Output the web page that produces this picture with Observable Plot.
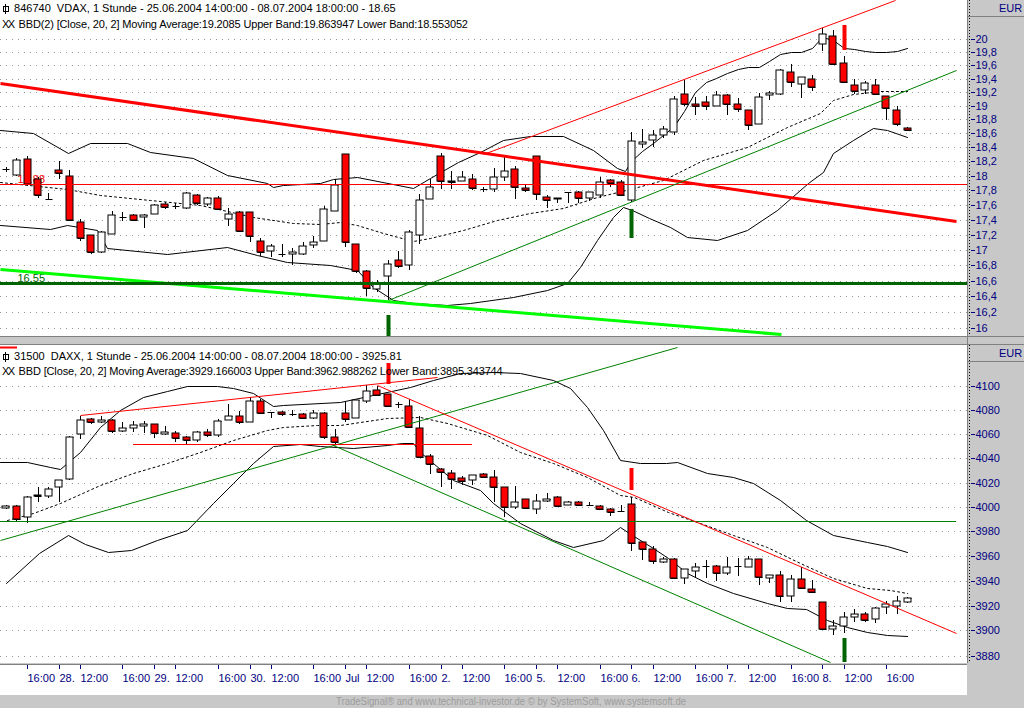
<!DOCTYPE html>
<html><head><meta charset="utf-8"><title>VDAX / DAXX 1 Stunde</title>
<script src="https://cdn.jsdelivr.net/npm/d3@7"></script>
<script src="https://cdn.jsdelivr.net/npm/@observablehq/plot@0.6"></script>
<style>
html,body{margin:0;padding:0;background:#c8c8c8;overflow:hidden;}
#root{position:relative;width:1024px;height:708px;background:#c8c8c8;font-family:"Liberation Sans",Arial,sans-serif;overflow:hidden;}
.box{position:absolute;}
.hdr{position:absolute;font-size:11px;line-height:13px;color:#000;white-space:pre;}
.hdr.tight{letter-spacing:-0.15px;}
.xx{letter-spacing:-1.5px;margin-right:2px;}
.eur{position:absolute;font-size:11px;line-height:13px;color:#000080;}
.ico{display:inline-block;position:relative;width:4px;height:4px;border:1px solid #000;margin:0 2px 0 1px;}
.ico::before{content:"";position:absolute;left:1px;top:-3px;width:1px;height:10px;background:#000;}
.svgbox{position:absolute;left:0;}
</style></head>
<body><div id="root"></div>
<script>
// ---------- x axis (bar index, one bar per hour) ----------
const xTickIdx    = [2,5,7,11,14,16,20,23,25,29,32,34,38,41,43,47,50,52,56,59,61,65,68,70,74,77,79,83];
const xTickLabels = ["16:00","28.","12:00","16:00","29.","12:00","16:00","30.","12:00","16:00","Jul","12:00","16:00","2.","12:00","16:00","5.","12:00","16:00","6.","12:00","16:00","7.","12:00","16:00","8.","12:00","16:00"];

// ---------- VDAX candles ----------
const vdaxOpen = [18.10,18.01,18.24,17.95,17.68,18.08,18.00,17.37,17.19,16.97,
 17.21,17.44,17.46,17.44,17.48,17.61,17.58,17.56,17.74,17.61,
 17.70,17.41,17.50,17.50,17.12,16.98,16.95,16.94,16.94,17.06,
 17.12,17.51,18.30,17.07,16.73,16.49,16.66,16.86,16.80,17.19,
 17.68,18.28,17.93,17.93,17.95,17.81,17.81,17.98,18.10,17.83,
 18.28,17.71,17.68,17.78,17.77,17.69,17.74,17.94,17.92,17.67,
 18.44,18.50,18.58,18.62,19.17,19.02,19.05,19.00,19.16,19.02,
 18.93,18.73,19.16,19.17,19.50,19.32,19.39,19.92,20.05,19.63,
 19.31,19.23,19.31,19.15,18.93,18.68];
const vdaxHigh = [18.12,18.25,18.28,17.98,17.76,18.20,18.08,17.41,17.20,17.25,
 17.51,17.50,17.47,17.48,17.61,17.64,17.63,17.78,17.75,17.71,
 17.72,17.56,17.52,17.50,17.16,17.07,17.07,17.02,17.10,17.18,
 17.58,17.96,18.31,17.08,16.74,16.61,16.87,16.98,17.26,17.75,
 17.96,18.32,18.07,18.06,18.02,17.84,18.11,18.26,18.14,17.88,
 18.28,17.74,17.70,17.78,17.79,17.78,17.98,17.96,17.94,18.62,
 18.66,18.65,18.70,19.15,19.38,19.13,19.15,19.22,19.18,19.12,
 18.93,19.19,19.21,19.54,19.62,19.43,19.45,20.17,20.15,19.74,
 19.39,19.36,19.39,19.15,19.00,18.69];
const vdaxLow = [18.05,18.00,17.86,17.69,17.68,17.95,17.39,17.12,16.95,16.96,
 17.21,17.38,17.38,17.29,17.47,17.54,17.55,17.55,17.60,17.58,
 17.53,17.31,17.25,17.10,16.92,16.91,16.91,16.80,16.93,17.02,
 17.11,17.51,17.03,16.70,16.40,16.45,16.35,16.76,16.74,17.07,
 17.68,17.82,17.81,17.93,17.80,17.77,17.77,17.93,17.68,17.77,
 17.67,17.56,17.62,17.63,17.62,17.65,17.70,17.84,17.72,17.64,
 18.39,18.40,18.53,18.58,19.00,18.87,18.93,18.99,18.87,18.91,
 18.65,18.73,19.08,19.16,19.28,19.11,19.21,19.82,19.62,19.33,
 19.17,19.17,19.16,18.79,18.70,18.64];
const vdaxClose = [18.10,18.22,17.88,17.73,17.68,18.04,17.39,17.15,16.97,17.23,
 17.46,17.44,17.40,17.46,17.60,17.57,17.58,17.76,17.62,17.69,
 17.55,17.48,17.25,17.18,16.97,17.05,16.95,16.97,17.05,17.10,
 17.54,17.87,17.10,16.72,16.51,16.57,16.82,16.79,17.24,17.67,
 17.85,17.93,17.91,17.98,17.83,17.81,17.98,18.06,17.84,17.80,
 17.75,17.67,17.70,17.78,17.70,17.77,17.92,17.90,17.74,18.49,
 18.47,18.58,18.66,19.10,19.03,18.99,19.00,19.16,19.02,18.95,
 18.72,19.13,19.19,19.53,19.35,19.42,19.27,20.08,19.62,19.35,
 19.21,19.34,19.17,18.96,18.74,18.65];
// VDAX Bollinger (20,2): [bar, value]
const vdaxUpper = [[-0.55,18.65],[2.56,18.60],[5.87,18.32],[7.94,18.46],[11.43,18.46],[13.6,18.33],[17.65,18.25],[20.86,18.01],[24.63,17.90],[25.2,17.84],[26.14,17.87],[29.6,17.90],[30.85,17.96],[33.1,17.98],[38.4,17.83],[40.0,17.97],[42.6,18.19],[44.7,18.33],[46.9,18.50],[49.4,18.56],[52.5,18.56],[55.4,18.36],[57.6,18.11],[58.4,18.06],[59,18.20],[60,18.35],[61,18.46],[62,18.58],[63,18.70],[64,18.92],[65,19.20],[66,19.35],[67,19.41],[68,19.48],[69,19.54],[70,19.57],[71,19.58],[72,19.66],[73,19.77],[74,19.80],[75,19.81],[76,19.86],[77,20.04],[78,19.99],[79,19.86],[80,19.85],[81,19.82],[82,19.80],[83,19.80],[84,19.82],[85,19.86]];
const vdaxLower = [[-0.55,17.33],[4.17,17.27],[5.77,17.33],[8.6,17.26],[9.54,17.02],[15.2,16.94],[20.86,17.04],[23.69,16.93],[26.5,16.84],[30.57,16.80],[33.1,16.74],[34.6,16.52],[36.5,16.35],[38.4,16.32],[41.6,16.29],[43.8,16.32],[47.8,16.39],[51.0,16.48],[52.9,16.57],[54.1,16.78],[55.75,17.13],[57.3,17.44],[58.2,17.57],[59.05,17.53],[60.7,17.42],[62.6,17.30],[64.2,17.17],[67.1,17.13],[69.9,17.26],[72.7,17.53],[75.6,17.90],[77.1,18.05],[78.0,18.32],[79.9,18.50],[81.8,18.68],[83.1,18.65],[85,18.55]];
const vdaxMA = [[-0.55,17.91],[5.77,17.82],[8.88,17.73],[13.6,17.66],[18.3,17.60],[20.9,17.51],[23.3,17.44],[27.1,17.36],[29.6,17.34],[31.5,17.37],[33.1,17.33],[35.6,17.22],[38.4,17.11],[40.0,17.16],[43.1,17.26],[46.3,17.39],[49.4,17.49],[52.5,17.56],[55.75,17.71],[58.9,17.82],[62.0,17.94],[65.7,18.22],[69.9,18.40],[73.7,18.69],[76.8,18.89],[78.0,19.08],[79.9,19.18],[82.4,19.21],[85,19.21]];
// VDAX drawn trend lines: [[bar, value],[bar, value]]
const vdaxRedThick  = [[-0.55,19.33],[89.6,17.38]];
const vdaxRedLevel  = [[-0.55,17.88],[90.64,17.88]];
const vdaxRedRise   = [[45.0,18.31],[83.85,20.62]];
const vdaxGreenRise = [[36.04,16.35],[89.6,19.53]];
const vdaxLimeFall  = [[-0.55,16.75],[73.07,15.93]];
const vdaxGreenLevel= [[-0.55,16.565],[90.64,16.565]];
const vdaxLevelLabels = ["17.88", "16.55"];
// signal bars: [bar, from, to]
const vdaxSignalGreen = [[36,16.17,15.90],[59,17.54,17.15]];
const vdaxSignalRed   = [[79,20.22,19.84]];
const vdaxTicks = [16,16.2,16.4,16.6,16.8,17,17.2,17.4,17.6,17.8,18,18.2,18.4,18.6,18.8,19,19.2,19.4,19.6,19.8,20];

// ---------- DAXX candles ----------
const daxOpen = [3999,4001,3992,4010,4009,4016,4023,4060,4072.5,4070,
 4072,4063,4065.5,4067,4068.5,4060,4061.5,4057.7,4055.5,4062,
 4059.5,4072,4075,4070,4088,4078.6,4078.5,4076.8,4077,4074,
 4077.5,4057.7,4078,4074,4087.5,4097,4094,4085,4083.5,4065,
 4042,4031,4028,4024,4022.5,4027,4025,4016,4000,4006.5,
 3998,4005,4008,4001.5,4004,4001.5,4000.5,3998.5,3996.5,4002.5,
 3971,3966,3955.5,3957.5,3942,3948,3951.5,3952,3946,3951.5,
 3951,3957.5,3942,3945,3928,3941,3933,3922.5,3901.5,3903.5,
 3911,3913,3909,3919,3919.5,3922.5];
const daxHigh = [4002,4002,4009,4016,4016.5,4022,4059,4075,4073.4,4075.3,
 4073,4070,4071,4071,4069,4067,4063,4059,4063,4064.5,
 4072.6,4085.5,4079.4,4091.5,4089.5,4078.6,4079.4,4080,4078,4080,
 4079,4064.5,4087.5,4089,4101,4100,4094,4086.7,4089.5,4075,
 4044,4032,4030,4025.8,4026.5,4028,4030,4016,4017.5,4006.5,
 4011,4011.7,4009,4004.5,4005,4004,4001.5,3999,4002,4008.5,
 3971,3968,3959,3958.5,3949.5,3954,3956.5,3952.5,3959,3958.5,
 3960,3957.5,3945,3948,3945,3951,3940.5,3922.5,3908,3915,
 3917.4,3914.6,3918.6,3923.4,3927.6,3926.5];
const daxLow = [3998,3988,3987,4004,4007.5,4004,4022,4056,4069,4069.5,
 4061,4062,4062,4061.5,4057,4059.5,4053.5,4051.5,4054,4057.7,
 4058,4072,4068.5,4070,4077,4074,4075.3,4075,4073,4073,
 4056,4051,4070,4074,4086,4092,4083,4082,4065,4041,
 4027,4016,4014.5,4018,4018,4024,4004,3991.5,3998,3999,
 3994.5,4004,4000,4001.5,4000.5,4001.5,3997.5,3993,3996.5,3964,
 3957,3953.5,3954,3942,3937,3942.5,3942,3939.5,3944.5,3944,
 3951,3936.5,3938.5,3923,3923,3933,3931,3901,3896.5,3898,
 3906.6,3907,3905.6,3913,3913,3922];
const daxClose = [4001,3990,4008,4009,4014.5,4022,4058,4072,4070,4072,
 4063,4065,4068,4069,4061,4062,4057,4055,4062,4059.5,
 4071.5,4075,4070,4088,4078,4078.6,4077,4076.8,4074,4078,
 4057.7,4053.5,4072.7,4089,4096.5,4093,4084,4085,4066,4041,
 4035,4029,4023,4021.5,4026,4025,4016,4000,4004,3999.5,
 4005,4006.7,4001,4004,4001.5,4001.5,3998.5,3996,3996.5,3970.5,
 3965.5,3956,3957.5,3942,3949.5,3951,3951.5,3946,3951,3951.5,
 3957.5,3943,3945,3928,3941,3934,3931,3901,3903.5,3911,
 3913.5,3908,3918,3921,3923.5,3925.81];
const daxUpper = [[-0.55,4037.3],[2.0,4037.3],[4.17,4033.2],[5.1,4031.0],[7.0,4045.6],[8.9,4066.4],[10.8,4080.3],[12.9,4091.4],[15.2,4096.5],[17.1,4100.4],[19.9,4100.4],[21.4,4098.5],[23.3,4094.3],[25.2,4083.6],[26.1,4084.5],[31.5,4086.7],[38.1,4099.8],[40.3,4105.5],[42.8,4111.1],[45.9,4112.5],[48.5,4111.1],[51.6,4105.5],[53.2,4098.7],[54.8,4083.1],[56.3,4063.6],[57.9,4038.3],[59.8,4036.0],[62.3,4036.0],[63.3,4037.3],[66.1,4028.2],[68.6,4024.4],[70.5,4020.0],[73.0,4005.7],[75.5,3989.3],[78.0,3977.1],[81.2,3971.6],[83.1,3968.1],[85,3963.0]];
const daxLower = [[0,3938],[3.13,3962.4],[5.87,3977.1],[7.47,3969.8],[9.64,3963.2],[11.8,3964.9],[14.3,3973.0],[17.1,3981.2],[19.5,4003.0],[21.4,4019.5],[23.3,4036.0],[25.2,4050.3],[27.7,4052.0],[29.6,4050.3],[32.7,4048.4],[35.9,4051.1],[37.4,4053.0],[38.4,4052.8],[39.1,4045.6],[42.2,4022.2],[44.7,4014.0],[45.9,4003.0],[48.5,3986.6],[51.6,3973.0],[53.5,3967.6],[56.3,3973.0],[57.9,3983.3],[59.05,3977.1],[61.0,3966.3],[62.4,3958.2],[64.2,3946.0],[66.1,3938.1],[68.6,3930.0],[71.8,3922.0],[73.7,3918.0],[75.5,3917.2],[77.4,3908.4],[79.3,3903.1],[81.2,3899.1],[83.1,3896.4],[85,3895.4]];
const daxMA = [[0.11,3989.3],[2.56,3994.8],[5.1,4003.5],[8.88,4018.1],[12.0,4027.7],[15.2,4036.0],[18.3,4045.6],[21.4,4055.3],[24.6,4063.6],[26.1,4066.4],[29.3,4067.8],[31.5,4067.8],[35.9,4073.4],[39.1,4074.7],[41.6,4069.2],[45.4,4059.5],[48.5,4045.6],[51.6,4036.0],[54.8,4024.9],[57.9,4009.8],[59.2,4008.4],[62.4,3996.1],[65.5,3986.6],[68.6,3977.1],[71.8,3967.6],[74.9,3954.1],[78.0,3941.9],[81.2,3933.9],[83.4,3932.5],[85,3930.3]];
const daxGreenLevel = [[-0.55,3988.1],[89.6,3988.1]];
const daxGreenRise  = [[-0.55,3973.3],[63.34,4133.5]];
const daxGreenFall  = [[30.85,4051.1],[77.7,3874.9]];
const daxRedFall    = [[35.0,4101.3],[89.6,3897.6]];
const daxRedRise    = [[7.0,4075.8],[40.66,4107.6]];
const daxRedLevel   = [[12.0,4052],[43.96,4052]];
const daxRedStub    = [[-0.55,4133.2],[1.1,4133.2]];
const daxSignalRed   = [[36,4119.4,4102.3],[59,4032.1,4014.0]];
const daxSignalGreen = [[79,3894.0,3874.9]];
const daxTicks = [3880,3900,3920,3940,3960,3980,4000,4020,4040,4060,4080,4100];

// ---------- layout ----------
const xDomain = [-0.547, 90.64];
const FONT = '"Liberation Sans", Arial, sans-serif';
const RED = "#ff0000", GREEN = "#008000", DKGREEN = "#006400", LIME = "#00ff00", NAVY = "#000080";
const root = document.getElementById("root");
function box(l, t, w, h, bg, extra = "") {
  const d = document.createElement("div");
  d.className = "box";
  d.style.cssText = `left:${l}px;top:${t}px;width:${w}px;height:${h}px;background:${bg};${extra}`;
  root.appendChild(d); return d;
}
function addText(cls, l, t, html) {
  const d = document.createElement("div");
  d.className = cls; d.style.left = l + "px"; d.style.top = t + "px"; d.innerHTML = html;
  root.appendChild(d); return d;
}

function panel(cfg) {
  const c = cfg.open.map((o, i) => ({i, o, h: cfg.high[i], l: cfg.low[i], c: cfg.close[i]}));
  const pts = a => a.map(([i, v]) => ({i, v}));
  const seg = a => [{x1: a[0][0], y1: a[0][1], x2: a[1][0], y2: a[1][1]}];
  const sig = a => a.map(([i, a1, a2]) => ({i, a1, a2}));
  const L = (a, stroke, w) => a[0][1] === a[1][1]
    ? Plot.ruleY(seg(a), {y: "y1", x1: "x1", x2: "x2", stroke, strokeWidth: w, clip: true})
    : Plot.link(seg(a), {x1: "x1", y1: "y1", x2: "x2", y2: "y2", stroke, strokeWidth: w, clip: true});
  const fmt = d => String(d).replace(".", ",");
  return Plot.plot({
    width: 1024, height: cfg.height,
    marginLeft: 0, marginRight: 57, marginTop: 0, marginBottom: 0,
    style: {background: "transparent", fontFamily: FONT, fontSize: "11px", overflow: "visible"},
    x: {domain: xDomain, axis: null, round: true},
    y: {type: "log", domain: cfg.yDomain, axis: null, round: true},
    marks: [
      Plot.gridY(cfg.ticks, {stroke: "#9a9a9a", strokeOpacity: 1, strokeDasharray: "1,5"}),
      Plot.line(pts(cfg.upper), {x: "i", y: "v", stroke: "#000", strokeWidth: 1, clip: true}),
      Plot.line(pts(cfg.lower), {x: "i", y: "v", stroke: "#000", strokeWidth: 1, clip: true}),
      Plot.line(pts(cfg.ma), {x: "i", y: "v", stroke: "#000", strokeWidth: 1, strokeDasharray: "2,3", clip: true}),
      ...(cfg.labels || []).map(([v, label, color]) =>
        Plot.text([v], {x: xDomain[0], y: d => d, text: () => label, fill: color, textAnchor: "start", lineAnchor: "bottom", dx: 17, dy: -2, fontSize: 11})),
      Plot.ruleX(c, {x: "i", y1: "l", y2: "h", stroke: "#000", strokeWidth: 1}),
      Plot.link(c, {x1: d => d.i - 0.33, x2: d => d.i + 0.33, y1: "c", y2: "c", stroke: "#000"}),
      Plot.rect(c.filter(d => d.o !== d.c), {x1: d => d.i - 0.33, x2: d => d.i + 0.33, y1: "o", y2: "c",
        fill: d => d.c > d.o ? "#ffffff" : RED, stroke: "#000", strokeWidth: 1}),
      ...cfg.lines.map(([a, color, w]) => L(a, color, w)),
      ...cfg.signals.map(([a, color]) => Plot.ruleX(sig(a), {x: "i", y1: "a1", y2: "a2", stroke: color, strokeWidth: 4, clip: true})),
      Plot.ruleX([xDomain[1]], {dx: 2, stroke: "#000", strokeDasharray: "1,2"}),
      Plot.axisY(cfg.ticks, {anchor: "right", tickFormat: fmt, tickSize: 4, tickPadding: 1, dx: 3, color: NAVY, fontSize: 11, label: null})
    ]
  });
}

// backgrounds
box(0, 0, 967, 336, "#ffffff");
box(0, 345, 967, 318, "#ffffff");
box(0, 664, 967, 31, "#ffffff", "box-sizing:border-box;border-top:1px solid #808080;");
box(967, 0, 1, 663, "#808080");
box(967, 16, 57, 1, "#808080");
box(967, 361, 57, 1, "#808080");
box(0, 336, 1024, 1, "#808080");
box(0, 344, 1024, 1, "#808080");

// top panel
const topPlot = panel({
  height: 336, yDomain: [15.905, 20.616], ticks: vdaxTicks,
  open: vdaxOpen, high: vdaxHigh, low: vdaxLow, close: vdaxClose,
  upper: vdaxUpper, lower: vdaxLower, ma: vdaxMA,
  labels: [[vdaxRedLevel[0][1], vdaxLevelLabels[0], RED], [vdaxGreenLevel[0][1], vdaxLevelLabels[1], DKGREEN]],
  lines: [[vdaxRedThick, RED, 3], [vdaxRedLevel, RED, 1], [vdaxRedRise, RED, 1], [vdaxGreenRise, GREEN, 1],
          [vdaxLimeFall, LIME, 3], [vdaxGreenLevel, DKGREEN, 3]],
  signals: [[vdaxSignalGreen, DKGREEN], [vdaxSignalRed, RED]]
});
topPlot.classList.add("svgbox"); topPlot.style.top = "0px"; root.appendChild(topPlot);

const botPlot = panel({
  height: 318, yDomain: [3874.1, 4135.0], ticks: daxTicks,
  open: daxOpen, high: daxHigh, low: daxLow, close: daxClose,
  upper: daxUpper, lower: daxLower, ma: daxMA,
  lines: [[daxGreenLevel, GREEN, 1], [daxGreenRise, GREEN, 1], [daxGreenFall, GREEN, 1],
          [daxRedFall, RED, 1], [daxRedRise, RED, 1], [daxRedLevel, RED, 1], [daxRedStub, RED, 2]],
  signals: [[daxSignalRed, RED], [daxSignalGreen, DKGREEN]]
});
botPlot.classList.add("svgbox"); botPlot.style.top = "345px"; root.appendChild(botPlot);

// x axis strip
const xAxisPlot = Plot.plot({
  width: 1024, height: 31, marginLeft: 0, marginRight: 57, marginTop: 1, marginBottom: 30,
  style: {background: "transparent", fontFamily: FONT, fontSize: "11px", overflow: "visible"},
  x: {domain: xDomain, axis: null, round: true},
  marks: [
    Plot.axisX(xTickIdx, {anchor: "bottom", tickSize: 4, tickPadding: 5, textAnchor: "start",
      tickFormat: d => xTickLabels[xTickIdx.indexOf(d)], color: NAVY, label: null})
  ]
});
xAxisPlot.classList.add("svgbox"); xAxisPlot.style.top = "664px"; root.appendChild(xAxisPlot);

// header texts
addText("hdr", 2, 2, '<span class="ico"></span> 846740  VDAX, 1 Stunde - 25.06.2004 14:00:00 - 08.07.2004 18:00:00 - 18.65');
addText("hdr tight", 2, 18, '<span class="xx">XX</span> BBD(2) [Close, 20, 2] Moving Average:19.2085 Upper Band:19.863947 Lower Band:18.553052');
addText("hdr", 2, 350, '<span class="ico"></span> 31500  DAXX, 1 Stunde - 25.06.2004 14:00:00 - 08.07.2004 18:00:00 - 3925.81');
addText("hdr tight", 2, 365, '<span class="xx">XX</span> BBD [Close, 20, 2] Moving Average:3929.166003 Upper Band:3962.988262 Lower Band:3895.343744');
addText("eur", 999, 2, "EUR");
addText("eur", 999, 347, "EUR");

// footer credit
const ns = "http://www.w3.org/2000/svg";
const fsvg = document.createElementNS(ns, "svg");
fsvg.setAttribute("width", 1024); fsvg.setAttribute("height", 13);
fsvg.style.cssText = "position:absolute;left:0;top:695px;";
const ft = document.createElementNS(ns, "text");
ft.setAttribute("x", 336); ft.setAttribute("y", 10);
ft.setAttribute("textLength", 350); ft.setAttribute("lengthAdjust", "spacingAndGlyphs");
ft.setAttribute("font-family", FONT); ft.setAttribute("font-size", 10); ft.setAttribute("fill", "#9c9c9c");
ft.textContent = "TradeSignal\u00ae and www.technical-investor.de \u00a9 by  SystemSoft, www.systemsoft.de";
fsvg.appendChild(ft); root.appendChild(fsvg);
</script></body></html>
